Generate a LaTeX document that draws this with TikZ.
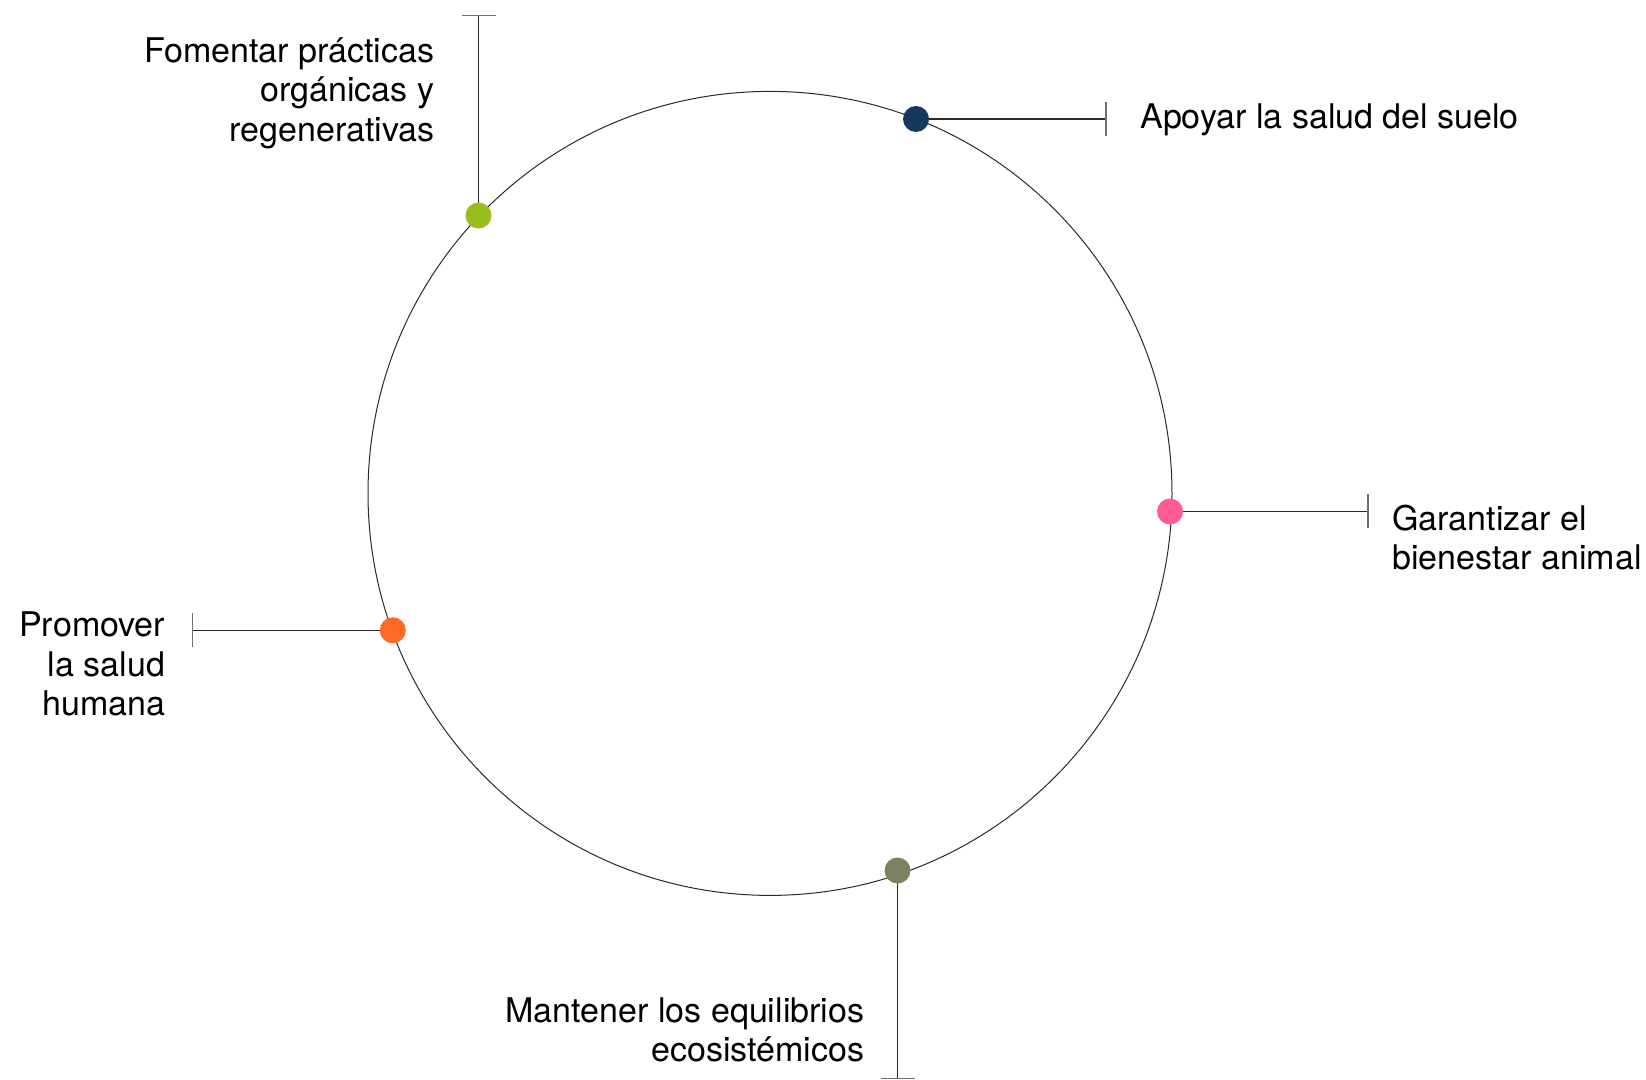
\documentclass[tikz,border=0pt]{standalone}
\usepackage{fontspec}
\setmainfont{TeX Gyre Heros}
\definecolor{cnavy}{HTML}{16385E}
\definecolor{cgreen}{HTML}{97BD20}
\definecolor{cpink}{HTML}{FF5C92}
\definecolor{corange}{HTML}{FC6A25}
\definecolor{colive}{HTML}{7B805E}
\definecolor{cline}{HTML}{2A2A2A}
\definecolor{ctick}{HTML}{707070}
\begin{document}
\begin{tikzpicture}[x=0.5pt,y=-0.5pt,
  dot/.style={circle,fill=#1,draw=none,minimum size=13pt,inner sep=0pt},
  conn/.style={draw=cline,line width=0.65pt},
  tickmark/.style={draw=ctick,line width=0.75pt},
  lbl/.style={inner sep=0pt,font=\fontsize{17}{19.75}\selectfont,text=black}]
\useasboundingbox[fill=white] (0,0) rectangle (1646,1080);
% main circle
\node[circle,draw=cline,line width=0.5pt,minimum size=402pt,inner sep=0pt] (ring) at (770,493.4) {};
% free ends
\coordinate (eNavy) at (1106,119);
\coordinate (eGreen) at (478.5,15.7);
\coordinate (ePink) at (1367.8,511.5);
\coordinate (eOrange) at (192.5,630.3);
\coordinate (eOlive) at (897.5,1078.5);
% dots
\coordinate (pNavy) at (916,119);
\coordinate (pGreen) at (478.5,215.5);
\coordinate (pPink) at (1170,511.5);
\coordinate (pOrange) at (392.8,630.3);
\coordinate (pOlive) at (897.5,870.5);
\draw[conn] (pNavy) -- (eNavy);
\draw[conn] (pGreen) -- (eGreen);
\draw[conn] (pPink) -- (ePink);
\draw[conn] (pOrange) -- (eOrange);
\draw[conn] (pOlive) -- (eOlive);
\draw[tickmark] ([yshift=17pt/2]eNavy) -- ([yshift=-17pt/2]eNavy);
\draw[tickmark] ([xshift=-17pt/2]eGreen) -- ([xshift=17pt/2]eGreen);
\draw[tickmark] ([yshift=17pt/2]ePink) -- ([yshift=-17pt/2]ePink);
\draw[tickmark] ([yshift=17pt/2]eOrange) -- ([yshift=-17pt/2]eOrange);
\draw[tickmark] ([xshift=-17pt/2]eOlive) -- ([xshift=17pt/2]eOlive);
\node[dot=cnavy] (dNavy) at (pNavy) {};
\node[dot=cgreen] (dGreen) at (pGreen) {};
\node[dot=cpink] (dPink) at (pPink) {};
\node[dot=corange] (dOrange) at (pOrange) {};
\node[dot=colive] (dOlive) at (pOlive) {};
% labels (base = baseline of last line)
\node[lbl,anchor=base east,align=right] (tGreen) at (434.7,141.5) {Fomentar prácticas\\orgánicas y\\regenerativas};
\node[lbl,anchor=base west] (tNavy) at (1140,128.3) {Apoyar la salud del suelo};
\node[lbl,anchor=base west,align=left] (tPink) at (1392,570) {Garantizar el\\bienestar animal};
\node[lbl,anchor=base east,align=right] (tOrange) at (165.5,715.7) {Promover\\la salud\\humana};
\node[lbl,anchor=base east,align=right] (tOlive) at (864.7,1061.7) {Mantener los equilibrios\\ecosistémicos};
\end{tikzpicture}
\end{document}
